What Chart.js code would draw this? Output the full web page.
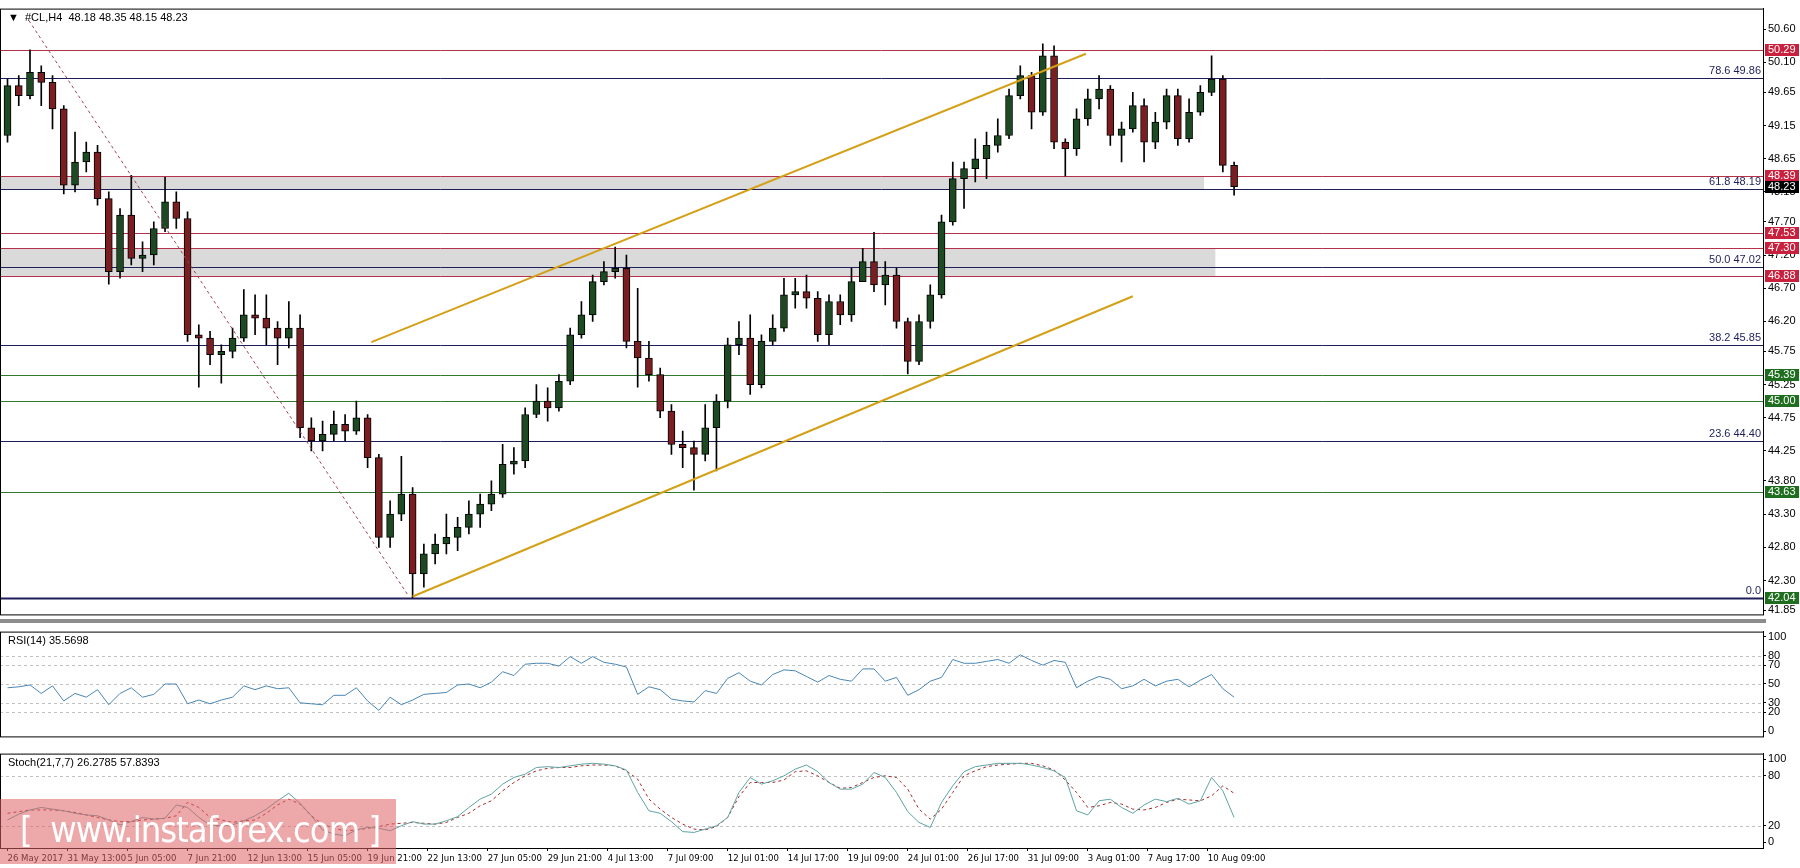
<!DOCTYPE html>
<html>
<head>
<meta charset="utf-8">
<script src="https://cdn.jsdelivr.net/npm/chart.js@4/dist/chart.umd.min.js"></script>
<style>
  body { margin: 0; background: #fff; width: 1800px; height: 868px; overflow: hidden; position: relative; font-family: "Liberation Sans", "DejaVu Sans", sans-serif; }
  .pane { position: absolute; left: 0; width: 1800px; }
  #mainPane { top: 0; height: 623px; }
  #rsiPane { top: 623px; height: 122px; }
  #stochPane { top: 745px; height: 123px; }
  #sep { position: absolute; left: 0; top: 619px; width: 1766px; height: 4px; background: #8c8c8c; }
  #mark { position: absolute; left: 0; top: 799px; width: 396px; height: 65px; background: rgba(222, 96, 100, 0.55);
          color: #fff; font-family: "DejaVu Sans Condensed", "Liberation Sans", sans-serif; font-size: 36px; line-height: 62px;
          padding-left: 20px; box-sizing: border-box; letter-spacing: -1px; }
</style>
</head>
<body>
<div class="pane" id="mainPane"><canvas id="mainChart"></canvas></div>
<div id="sep"></div>
<div class="pane" id="rsiPane"><canvas id="rsiChart"></canvas></div>
<div class="pane" id="stochPane"><canvas id="stochChart"></canvas></div>
<div id="mark">[&nbsp; www.instaforex.com ]</div>
<script>
// each candle = 3 H4 bars, centred at bar index 3*i+1
const closes = [49.75,49.60,49.95,49.80,49.40,48.25,48.60,48.75,48.05,46.95,
  47.80,47.15,47.20,47.60,48.00,47.75,46.00,45.95,45.70,45.75,
  45.95,46.30,46.25,46.10,45.95,46.10,44.60,44.40,44.50,44.65,
  44.55,44.75,44.15,42.95,43.30,43.60,42.40,42.70,42.85,42.95,
  43.10,43.30,43.45,43.60,44.05,44.10,44.80,45.00,44.90,45.30,
  46.00,46.30,46.80,46.95,47.00,45.90,45.65,45.40,44.85,44.35,
  44.30,44.20,44.60,45.00,45.85,45.95,45.25,45.90,46.10,46.60,
  46.65,46.55,46.00,46.50,46.30,46.80,47.10,46.75,46.90,46.20,
  45.60,46.20,46.60,47.70,48.35,48.50,48.65,48.85,49.00,49.60,
  49.90,49.35,50.20,48.90,48.80,49.25,49.55,49.70,49.00,49.10,
  49.45,48.90,49.20,49.60,48.95,49.35,49.65,49.85,48.55,48.23];
const highs = [49.85,49.90,50.29,50.05,49.90,49.45,49.05,48.90,48.85,48.15,
  47.90,48.40,47.40,47.70,48.37,48.15,47.85,46.15,46.05,45.85,
  46.10,46.68,46.60,46.60,46.20,46.50,46.30,44.75,44.70,44.85,
  44.80,45.00,44.80,44.20,43.50,44.17,43.70,42.85,43.00,43.30,
  43.25,43.50,43.60,43.80,44.35,44.30,44.90,45.25,45.20,45.40,
  46.10,46.50,46.90,47.10,47.32,47.20,46.70,45.90,45.50,44.95,
  44.55,44.40,44.95,45.10,45.95,46.20,46.30,46.00,46.30,46.85,
  46.85,46.90,46.65,46.60,46.60,47.00,47.30,47.54,47.10,47.00,
  46.25,46.30,46.75,47.80,48.60,48.60,48.95,49.05,49.25,49.70,
  50.05,49.95,50.38,50.35,48.95,49.40,49.70,49.90,49.75,49.20,
  49.65,49.55,49.35,49.70,49.70,49.55,49.75,50.20,49.90,48.60];
const lows = [48.90,49.45,49.55,49.45,49.10,48.12,48.15,48.45,47.95,46.76,
  46.85,47.05,46.95,47.05,47.55,47.60,45.90,45.21,45.55,45.27,
  45.65,45.90,46.00,45.85,45.55,45.80,44.45,44.25,44.25,44.40,
  44.40,44.50,44.00,42.80,42.80,43.20,42.04,42.20,42.55,42.70,
  42.75,43.00,43.10,43.35,43.55,43.90,44.00,44.75,44.70,44.85,
  45.25,45.95,46.20,46.75,46.85,45.80,45.21,45.30,44.75,44.20,
  44.00,43.66,44.10,43.95,44.90,45.70,45.10,45.20,45.85,46.05,
  46.40,46.40,45.90,45.85,46.15,46.20,46.90,46.65,46.45,46.10,
  45.41,45.55,46.10,46.55,47.65,47.90,48.30,48.35,48.75,48.95,
  49.55,49.10,49.30,48.80,48.39,48.70,49.15,49.40,48.85,48.60,
  49.05,48.60,48.80,49.10,48.85,48.90,49.30,49.60,48.45,48.10];
const firstOpen = 49.00;

const rsiValues = [46,47,49,40,48,32,40,36,44,28,40,46,36,39,50,50,29,33,29,33,
  36,48,44,48,45,46,30,29,28,38,38,46,32,22,36,28,33,39,40,41,
  49,50,46,52,63,59,71,72,72,69,79,72,79,73,71,68,39,47,44,34,
  32,31,43,40,56,62,53,49,60,65,64,58,52,59,55,53,66,66,53,57,
  38,44,53,57,76,72,72,74,76,72,81,75,70,75,73,46,53,58,55,45,
  48,55,48,53,55,47,54,60,45,36];
const stochMain = [27,34,39,42,40,38,35,33,32,27,21,25,30,28,29,45,42,30,21,20,
  21,26,32,40,50,59,47,32,15,10,8,15,18,17,14,20,25,22,22,26,
  31,42,52,58,70,78,82,90,91,90,92,94,95,94,92,87,60,38,35,25,
  13,12,16,20,30,60,78,70,74,80,88,93,85,72,64,64,70,84,78,60,
  37,24,18,48,68,85,91,93,95,95,95,93,90,86,78,38,33,50,52,42,
  35,45,52,49,53,46,50,78,62,30];
const stochSignal = [35,37,39,39,39,38,36,33,30,27,25,25,27,28,29,32,48,42,30,27,
  24,26,27,35,45,52,46,32,22,17,14,15,17,19,22,23,24,23,22,24,
  30,35,44,50,62,72,80,86,89,90,90,92,93,93,92,86,76,52,40,30,
  22,16,15,19,30,55,72,72,72,75,85,86,80,72,65,66,72,78,80,78,
  64,40,28,40,60,80,86,91,93,94,95,95,92,87,75,60,42,44,48,46,
  40,39,42,48,52,51,50,56,68,59];

const priceTicks = [50.60,50.10,49.65,49.15,48.65,48.15,47.70,47.20,46.70,46.20,45.75,45.25,44.75,44.25,43.80,43.30,42.80,42.30,41.85];
const rsiTicks = [100,80,70,50,30,20,0];
const stochTicks = [100,80,20,0];
const dateLabels = ['26 May 2017','31 May 13:00','5 Jun 05:00','7 Jun 21:00','12 Jun 13:00','15 Jun 05:00','19 Jun 21:00',
  '22 Jun 13:00','27 Jun 05:00','29 Jun 21:00','4 Jul 13:00','7 Jul 09:00','12 Jul 01:00','14 Jul 17:00','19 Jul 09:00',
  '24 Jul 01:00','26 Jul 17:00','31 Jul 09:00','3 Aug 01:00','7 Aug 17:00','10 Aug 09:00'];
const dateBars = [1,17,33,49,65,81,97,113,129,145,161,177,193,209,225,241,257,273,289,305,321];

const RED = '#b5304a', NAVY = '#1e1e5a', GREEN = '#2f7a2f';
const levels = [
  { v: 50.29, color: RED, box: '#c9203e' },
  { v: 49.86, color: NAVY, fib: '78.6 49.86' },
  { v: 48.39, color: RED, box: '#c9203e' },
  { v: 48.19, color: NAVY, fib: '61.8 48.19' },
  { v: 47.53, color: RED, box: '#c9203e' },
  { v: 47.30, color: RED, box: '#c9203e' },
  { v: 47.02, color: NAVY, fib: '50.0 47.02' },
  { v: 46.88, color: RED, box: '#c9203e' },
  { v: 45.85, color: NAVY, fib: '38.2 45.85' },
  { v: 45.39, color: GREEN, box: '#1f6e1f' },
  { v: 45.00, color: GREEN, box: '#1f6e1f' },
  { v: 44.40, color: NAVY, fib: '23.6 44.40' },
  { v: 43.63, color: GREEN, box: '#1f6e1f' },
  { v: 42.04, color: NAVY, width: 2, fib: '0.0', box: '#1f6e1f' }
];
const zones = [ { lo: 48.19, hi: 48.39, to: 320 }, { lo: 46.88, hi: 47.30, to: 323 } ];
const lastPrice = 48.23;

const opens = closes.map((c, i) => i === 0 ? firstOpen : closes[i - 1]);
const barX = closes.map((c, i) => 3 * i + 1);

const XMIN = -1, XMAX = 469;
const FONT = { family: '"Liberation Sans", sans-serif', size: 11 };

const panelPlugin = {
  id: 'panel',
  beforeDatasetsDraw(chart, args, o) {
    const { ctx, chartArea: a, scales: { x, y } } = chart;
    ctx.save();
    (o.zones || []).forEach(z => {
      const t = y.getPixelForValue(z.hi), b = y.getPixelForValue(z.lo);
      ctx.fillStyle = '#dadada';
      ctx.fillRect(a.left, t, x.getPixelForValue(z.to) - a.left, b - t);
    });
    (o.levels || []).forEach(l => {
      const py = Math.round(y.getPixelForValue(l.v)) + 0.5;
      ctx.strokeStyle = l.color;
      ctx.lineWidth = l.width || 1;
      ctx.setLineDash(l.dash || []);
      ctx.beginPath(); ctx.moveTo(a.left, py); ctx.lineTo(a.right, py); ctx.stroke();
    });
    ctx.restore();
  },
  afterDraw(chart, args, o) {
    const { ctx, chartArea: a, scales: { y } } = chart;
    ctx.save();
    ctx.strokeStyle = '#000'; ctx.lineWidth = 1; ctx.setLineDash([]);
    ctx.strokeRect(a.left + 0.5, a.top + 0.5, a.right - a.left, a.bottom - a.top);
    ctx.font = '11px "Liberation Sans", sans-serif';
    ctx.textBaseline = 'middle';
    if (o.title) { ctx.fillStyle = '#000'; ctx.textAlign = 'left'; ctx.fillText(o.title, a.left + 8, a.top + 9); }
    (o.levels || []).forEach(l => {
      const py = Math.round(y.getPixelForValue(l.v));
      if (l.fib) { ctx.fillStyle = NAVY; ctx.textAlign = 'right'; ctx.fillText(l.fib, a.right - 2, py - 7); }
      if (l.box) {
        ctx.fillStyle = l.box; ctx.fillRect(a.right + 2, py - 6, 34, 12);
        ctx.fillStyle = '#fff'; ctx.textAlign = 'left'; ctx.fillText(l.v.toFixed(2), a.right + 5, py);
      }
    });
    if (o.last) {
      const py = Math.round(y.getPixelForValue(o.last));
      ctx.fillStyle = '#000'; ctx.fillRect(a.right + 2, py - 6, 34, 12);
      ctx.fillStyle = '#fff'; ctx.textAlign = 'left'; ctx.fillText(o.last.toFixed(2), a.right + 5, py);
    }
    ctx.restore();
  }
};

function yAxis(min, max, ticks, fmt) {
  return {
    position: 'right', min: min, max: max,
    afterBuildTicks: s => { s.ticks = ticks.map(v => ({ value: v })); },
    afterFit: s => { s.width = 37; },
    grid: { drawOnChartArea: false, tickLength: 3, color: '#000' },
    border: { color: '#000' },
    ticks: { color: '#000', font: FONT, padding: 2, callback: fmt }
  };
}
function xAxis(show) {
  return {
    type: 'linear', min: XMIN, max: XMAX, display: show, offset: false,
    afterBuildTicks: s => { s.ticks = dateBars.map(v => ({ value: v })); },
    afterFit: s => { if (show) s.height = 20; },
    grid: { drawOnChartArea: false, tickLength: 3, color: '#000', offset: false },
    border: { color: '#000' },
    ticks: { color: '#000', font: { family: '"DejaVu Sans Condensed", "Liberation Sans", sans-serif', size: 9.5 },
             align: 'start', maxRotation: 0, autoSkip: false, padding: 2,
             callback: v => dateLabels[dateBars.indexOf(v)] }
  };
}
const common = {
  responsive: true, maintainAspectRatio: false, animation: false, devicePixelRatio: 1,
  plugins: { legend: { display: false }, tooltip: { enabled: false } }
};

// main price panel
new Chart(document.getElementById('mainChart'), {
  type: 'bar',
  data: {
    datasets: [
      { label: 'wick', order: 3, grouped: false, barThickness: 1, backgroundColor: '#000',
        data: barX.map((x, i) => ({ x: x, y: [lows[i], highs[i]] })) },
      { label: 'body', order: 2, grouped: false, barThickness: 7, borderWidth: 1, borderColor: '#000', borderSkipped: false,
        backgroundColor: closes.map((c, i) => c >= opens[i] ? '#1d4a22' : '#7a1e22'),
        data: barX.map((x, i) => ({ x: x, y: [opens[i], closes[i]] })) },
      { type: 'line', label: 'upper', order: 1, borderColor: '#d4a017', borderWidth: 2, pointRadius: 0,
        data: [{ x: 98, y: 45.89 }, { x: 288.5, y: 50.23 }] },
      { type: 'line', label: 'lower', order: 1, borderColor: '#d4a017', borderWidth: 2, pointRadius: 0,
        data: [{ x: 109, y: 42.06 }, { x: 301, y: 46.58 }] },
      { type: 'line', label: 'down', order: 1, borderColor: '#a04050', borderWidth: 1, borderDash: [3, 3], pointRadius: 0,
        data: [{ x: 6.7, y: 50.73 }, { x: 108, y: 42.06 }] }
    ]
  },
  options: Object.assign({}, common, {
    layout: { padding: { top: 3, left: 0, right: 0, bottom: 0 } },
    scales: { x: xAxis(false), y: yAxis(41.79, 50.91, priceTicks, v => v.toFixed(2)) },
    plugins: Object.assign({}, common.plugins, {
      panel: { levels: levels, zones: zones, last: lastPrice, title: '\u25BC  #CL,H4  48.18 48.35 48.15 48.23' }
    })
  }),
  plugins: [panelPlugin]
});

// RSI panel
new Chart(document.getElementById('rsiChart'), {
  type: 'line',
  data: { datasets: [
    { data: barX.map((x, i) => ({ x: x, y: rsiValues[i] })), borderColor: '#4a86b4', borderWidth: 1, pointRadius: 0 }
  ] },
  options: Object.assign({}, common, {
    layout: { padding: { top: 1, bottom: 2 } },
    scales: { x: xAxis(false), y: yAxis(-5.6, 105.6, rsiTicks, v => v) },
    plugins: Object.assign({}, common.plugins, {
      panel: { title: 'RSI(14) 35.5698',
        levels: [80, 70, 50, 30, 20].map(v => ({ v: v, color: '#c0c0c0', dash: [3, 3] })) }
    })
  }),
  plugins: [panelPlugin]
});

// Stochastic panel
new Chart(document.getElementById('stochChart'), {
  type: 'line',
  data: { datasets: [
    { data: barX.map((x, i) => ({ x: x, y: stochMain[i] })), borderColor: '#5fa3a3', borderWidth: 1, pointRadius: 0 },
    { data: barX.map((x, i) => ({ x: x, y: stochSignal[i] })), borderColor: '#a52a2a', borderWidth: 1, borderDash: [3, 3], pointRadius: 0 }
  ] },
  options: Object.assign({}, common, {
    layout: { padding: { top: 1, bottom: 0 } },
    scales: { x: xAxis(true), y: yAxis(-6.7, 106.7, stochTicks, v => v) },
    plugins: Object.assign({}, common.plugins, {
      panel: { title: 'Stoch(21,7,7) 26.2785 57.8393',
        levels: [80, 20].map(v => ({ v: v, color: '#c0c0c0', dash: [3, 3] })) }
    })
  }),
  plugins: [panelPlugin]
});
</script>
</body>
</html>
